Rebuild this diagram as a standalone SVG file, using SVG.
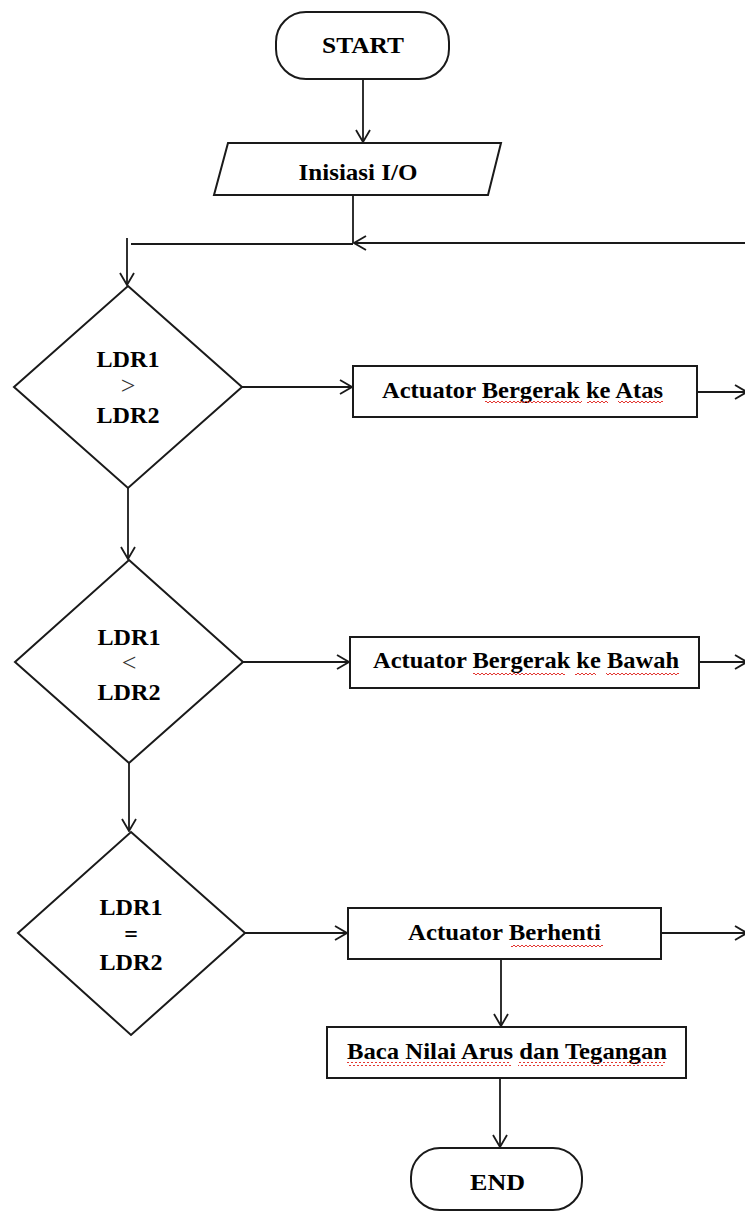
<svg xmlns="http://www.w3.org/2000/svg" width="745" height="1212" viewBox="0 0 745 1212">
<style>
.shape{fill:#fff;stroke:#1a1a1a;stroke-width:2}
.conn{fill:none;stroke:#1a1a1a;stroke-width:1.8}
.t{font-family:"Liberation Serif","Times New Roman",serif;font-weight:bold;font-size:24px;fill:#000;text-anchor:middle}
.op{font-family:"Liberation Serif","Times New Roman",serif;font-size:26px;fill:#333;text-anchor:middle}
.sq{fill:url(#squig)}
</style>
<defs>
<marker id="arr" markerUnits="userSpaceOnUse" markerWidth="14" markerHeight="16" viewBox="0 0 14 16" refX="13" refY="8" orient="auto">
<path d="M1,1 L13,8 L1,15" fill="none" stroke="#1a1a1a" stroke-width="1.8"/>
</marker>
<pattern id="squig" patternUnits="userSpaceOnUse" x="0" y="0" width="4" height="4">
<path d="M0,3 L2,1 L4,3" fill="none" stroke="#e0201a" stroke-width="0.9"/>
</pattern>
</defs>

<g id="connectors">
<path class="conn" d="M363,79 V142" marker-end="url(#arr)"/>
<path class="conn" d="M353,195 V243"/>
<path class="conn" d="M746,243 H354" marker-end="url(#arr)"/>
<path class="conn" d="M353,244 H131"/>
<path class="conn" d="M127,238 V285" marker-end="url(#arr)"/>
<path class="conn" d="M242,387 H352" marker-end="url(#arr)"/>
<path class="conn" d="M697,392 H747" marker-end="url(#arr)"/>
<path class="conn" d="M128,488 V559" marker-end="url(#arr)"/>
<path class="conn" d="M243,662 H349" marker-end="url(#arr)"/>
<path class="conn" d="M699,662 H747" marker-end="url(#arr)"/>
<path class="conn" d="M129,763 V831" marker-end="url(#arr)"/>
<path class="conn" d="M245,933 H347" marker-end="url(#arr)"/>
<path class="conn" d="M661,933 H747" marker-end="url(#arr)"/>
<path class="conn" d="M501,959 V1026" marker-end="url(#arr)"/>
<path class="conn" d="M500,1078 V1147" marker-end="url(#arr)"/>
</g>

<g id="start">
<rect class="shape" x="276" y="12" width="173" height="67" rx="30" ry="30"/>
<text class="t" x="363" y="53" textLength="82" lengthAdjust="spacingAndGlyphs">START</text>
</g>

<g id="init">
<path class="shape" d="M228,143 L501,143 L488,195 L214,195 Z"/>
<text class="t" x="358" y="180" textLength="119" lengthAdjust="spacingAndGlyphs">Inisiasi I/O</text>
</g>

<g id="decision1">
<path class="shape" d="M128,286 L242,387 L128,488 L14,387 Z"/>
<text class="t" x="128" y="367" textLength="63" lengthAdjust="spacingAndGlyphs">LDR1</text>
<text class="op" x="128" y="394">&gt;</text>
<text class="t" x="128" y="423" textLength="63" lengthAdjust="spacingAndGlyphs">LDR2</text>
</g>

<g id="up">
<rect class="shape" x="353" y="366" width="344" height="51"/>
<text class="t" x="522.5" y="398" textLength="281" lengthAdjust="spacingAndGlyphs">Actuator Bergerak ke Atas</text>
<rect class="sq" x="485" y="401" width="97" height="4"/>
<rect class="sq" x="587" y="401" width="21" height="4"/>
<rect class="sq" x="618" y="401" width="45" height="4"/>
</g>

<g id="decision2">
<path class="shape" d="M129,560 L243,662 L129,763 L15,662 Z"/>
<text class="t" x="129" y="645" textLength="63" lengthAdjust="spacingAndGlyphs">LDR1</text>
<text class="op" x="129" y="671">&lt;</text>
<text class="t" x="129" y="700" textLength="63" lengthAdjust="spacingAndGlyphs">LDR2</text>
</g>

<g id="down">
<rect class="shape" x="350" y="637" width="349" height="51"/>
<text class="t" x="526" y="668" textLength="306" lengthAdjust="spacingAndGlyphs">Actuator Bergerak ke Bawah</text>
<rect class="sq" x="473" y="672" width="92" height="4"/>
<rect class="sq" x="575" y="672" width="21" height="4"/>
<rect class="sq" x="606" y="672" width="73" height="4"/>
</g>

<g id="decision3">
<path class="shape" d="M131,832 L245,933 L131,1035 L18,933 Z"/>
<text class="t" x="131" y="915" textLength="63" lengthAdjust="spacingAndGlyphs">LDR1</text>
<text class="t" x="131" y="942">=</text>
<text class="t" x="131" y="970" textLength="63" lengthAdjust="spacingAndGlyphs">LDR2</text>
</g>

<g id="stop">
<rect class="shape" x="348" y="908" width="313" height="51"/>
<text class="t" x="504.5" y="940" textLength="193" lengthAdjust="spacingAndGlyphs">Actuator Berhenti</text>
<rect class="sq" x="511" y="943" width="92" height="4"/>
</g>

<g id="read">
<rect class="shape" x="327" y="1027" width="359" height="51"/>
<text class="t" x="507" y="1059" textLength="320" lengthAdjust="spacingAndGlyphs">Baca Nilai Arus dan Tegangan</text>
<rect class="sq" x="347" y="1062" width="164" height="4"/>
<rect class="sq" x="518" y="1062" width="147" height="4"/>
</g>

<g id="end">
<rect class="shape" x="411" y="1148" width="171" height="62" rx="29" ry="29"/>
<text class="t" x="497.5" y="1190" textLength="55" lengthAdjust="spacingAndGlyphs">END</text>
</g>
</svg>
